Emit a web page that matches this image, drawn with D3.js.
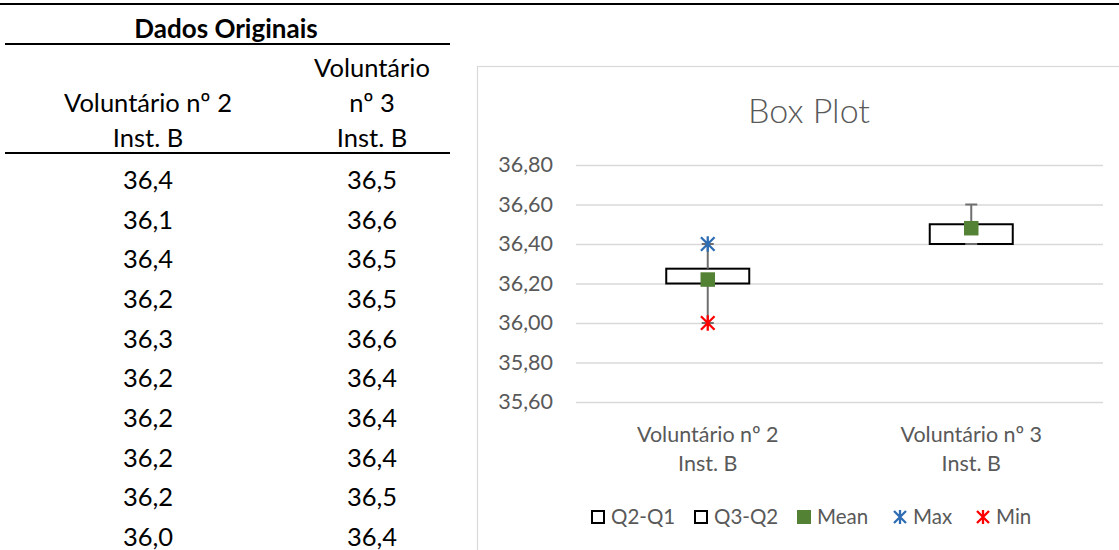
<!DOCTYPE html>
<html>
<head>
<meta charset="utf-8">
<script src="https://cdn.jsdelivr.net/npm/d3@7"></script>
<style>
  html, body { margin: 0; padding: 0; background: #fff; }
  svg { display: block; }
</style>
</head>
<body>
<svg id="chart" width="1119" height="550"></svg>
<script>
// ---------- data ----------
const tableTitle = "Dados Originais";
const tableHeaders = [["Voluntário nº 2", "Inst. B"], ["Voluntário", "nº 3", "Inst. B"]];
const vol2 = [36.4, 36.1, 36.4, 36.2, 36.3, 36.2, 36.2, 36.2, 36.2, 36.0];
const vol3 = [36.5, 36.6, 36.5, 36.5, 36.6, 36.4, 36.4, 36.4, 36.5, 36.4];

const chartTitle = "Box Plot";
const categories = ["Voluntário nº 2\nInst. B", "Voluntário nº 3\nInst. B"];
const q1 = [36.2, 36.4];
const q2 = [36.2, 36.5];
const q3 = [36.275, 36.5];
const whiskerLow = [36.0, 36.4];
const whiskerHigh = [36.4, 36.6];
const meanVals = [36.22, 36.48];
const maxVals = [36.4, null];
const minVals = [36.0, null];
const yTicks = [35.6, 35.8, 36.0, 36.2, 36.4, 36.6, 36.8];
const legendLabels = ["Q2-Q1", "Q3-Q2", "Mean", "Max", "Min"];

// ---------- setup ----------
const svg = d3.select("#chart");
svg.append("rect").attr("width", 1119).attr("height", 550).attr("fill", "#fff");
const ptLocale = d3.formatLocale({ decimal: ",", thousands: ".", grouping: [3], currency: ["", ""] });
const f1 = ptLocale.format(".1f");
const f2 = ptLocale.format(".2f");
const FONT = "Lato, 'Open Sans', 'Noto Sans', sans-serif";

// ---------- top rule ----------
svg.append("line").attr("x1", 0).attr("x2", 1119).attr("y1", 4).attr("y2", 4)
  .attr("stroke", "#000").attr("stroke-width", 2.2);

// ---------- table ----------
const colX = d3.scalePoint().domain([0, 1]).range([148, 372]);
const rowY = d3.scaleLinear().domain([0, 9]).range([180, 537]);
const TS = 25.5;
const tbl = svg.append("g").attr("font-family", FONT).attr("fill", "#000");

tbl.append("text").attr("x", 226).attr("y", 38).attr("text-anchor", "middle")
  .attr("font-size", 26).attr("font-weight", 700).text(tableTitle);
tbl.append("line").attr("x1", 5).attr("x2", 450).attr("y1", 44).attr("y2", 44)
  .attr("stroke", "#000").attr("stroke-width", 2);
tbl.append("line").attr("x1", 5).attr("x2", 450).attr("y1", 153).attr("y2", 153)
  .attr("stroke", "#000").attr("stroke-width", 2);

tableHeaders.forEach((lines, ci) => {
  const bottom = 147;
  lines.forEach((ln, li) => {
    tbl.append("text").attr("x", colX(ci)).attr("y", bottom - (lines.length - 1 - li) * 35)
      .attr("text-anchor", "middle").attr("font-size", TS).text(ln);
  });
});
[vol2, vol3].forEach((col, ci) => {
  tbl.selectAll(null).data(col).enter().append("text")
    .attr("x", colX(ci)).attr("y", (d, i) => rowY(i))
    .attr("dy", "0.35em").attr("text-anchor", "middle").attr("font-size", TS)
    .text(d => f1(d));
});

// ---------- chart ----------
svg.append("rect").attr("x", 477.5).attr("y", 66.5).attr("width", 700).attr("height", 600)
  .attr("fill", "#fff").attr("stroke", "#d9d9d9").attr("stroke-width", 1.2);

svg.append("text").attr("x", 809).attr("y", 123).attr("text-anchor", "middle")
  .attr("font-family", FONT).attr("font-weight", 300).attr("font-size", 34)
  .attr("fill", "#595959").text(chartTitle);

const y = d3.scaleLinear().domain([35.6, 36.8]).range([402, 165]);
const x = d3.scaleBand().domain(categories).range([576, 1103]).padding(0);

// grid + y axis labels
const yAxis = d3.axisLeft(y).tickValues(yTicks).tickSize(-(1103 - 576)).tickFormat(d => f2(d)).tickPadding(23);
const gy = svg.append("g").attr("transform", "translate(576,0)").call(yAxis);
gy.select(".domain").remove();
gy.selectAll(".tick line").attr("stroke", "#d9d9d9").attr("stroke-width", 1.3);
gy.selectAll(".tick text").attr("font-family", FONT).attr("font-size", 21.5).attr("fill", "#595959");

// x axis labels
const xAxis = d3.axisBottom(x).tickSize(0).tickFormat("");
const gx = svg.append("g").attr("transform", "translate(0,402)").call(xAxis);
gx.select(".domain").remove();
gx.selectAll(".tick").each(function(d) {
  const t = d3.select(this).append("text").attr("text-anchor", "middle")
    .attr("font-family", FONT).attr("font-size", 21.5).attr("fill", "#595959");
  d.split("\n").forEach((ln, i) => t.append("tspan").attr("x", 0).attr("y", 40 + i * 29).text(ln));
});

const bw = x.bandwidth() * 0.315;
const cx = i => x(categories[i]) + x.bandwidth() / 2;
const idx = d3.range(categories.length);

// boxes
const boxes = svg.append("g");
idx.forEach(i => {
  boxes.append("rect").attr("x", cx(i) - bw / 2).attr("y", y(q2[i]))
    .attr("width", bw).attr("height", y(q1[i]) - y(q2[i]))
    .attr("fill", "#fff").attr("stroke", "#000").attr("stroke-width", 2);
  boxes.append("rect").attr("x", cx(i) - bw / 2).attr("y", y(q3[i]))
    .attr("width", bw).attr("height", y(q2[i]) - y(q3[i]))
    .attr("fill", "#fff").attr("stroke", "#000").attr("stroke-width", 2);
});

// whiskers
const wh = svg.append("g").attr("stroke", "#6f6f6f").attr("stroke-width", 2);
const capW = 12;
idx.forEach(i => {
  wh.append("line").attr("x1", cx(i)).attr("x2", cx(i)).attr("y1", y(q3[i])).attr("y2", y(whiskerHigh[i]));
  wh.append("line").attr("x1", cx(i) - capW / 2).attr("x2", cx(i) + capW / 2).attr("y1", y(whiskerHigh[i])).attr("y2", y(whiskerHigh[i]));
  wh.append("line").attr("x1", cx(i)).attr("x2", cx(i)).attr("y1", y(q1[i])).attr("y2", y(whiskerLow[i]));
  wh.append("line").attr("x1", cx(i) - capW / 2).attr("x2", cx(i) + capW / 2).attr("y1", y(whiskerLow[i])).attr("y2", y(whiskerLow[i]));
});

// markers
const GREEN = "#548235", BLUE = "#2e6db4", RED = "#ff0000";
const star = s => `M${-s},${-s}L${s},${s}M${-s},${s}L${s},${-s}M0,${-s * 1.15}L0,${s * 1.15}`;
const ms = 14.5;
svg.append("g").selectAll("rect").data(idx).enter().append("rect")
  .attr("x", i => cx(i) - ms / 2).attr("y", i => y(meanVals[i]) - ms / 2)
  .attr("width", ms).attr("height", ms).attr("fill", GREEN);
svg.append("g").selectAll("path").data(idx.filter(i => maxVals[i] != null)).enter().append("path")
  .attr("transform", i => `translate(${cx(i)},${y(maxVals[i])})`)
  .attr("d", star(6.8)).attr("stroke", BLUE).attr("stroke-width", 2.3).attr("fill", "none");
svg.append("g").selectAll("path").data(idx.filter(i => minVals[i] != null)).enter().append("path")
  .attr("transform", i => `translate(${cx(i)},${y(minVals[i])})`)
  .attr("d", star(6.8)).attr("stroke", RED).attr("stroke-width", 2.3).attr("fill", "none");

// legend
const legX = [591, 694, 797, 893, 976];
const leg = svg.append("g").attr("font-family", FONT).attr("font-size", 20.5).attr("fill", "#595959");
legendLabels.forEach((lab, i) => {
  const g = leg.append("g").attr("transform", `translate(${legX[i]},517)`);
  if (i < 2) {
    g.append("rect").attr("x", 1).attr("y", -6).attr("width", 12).attr("height", 12)
      .attr("fill", "#fff").attr("stroke", "#000").attr("stroke-width", 2);
  } else if (i === 2) {
    g.append("rect").attr("x", 0).attr("y", -7).attr("width", 14).attr("height", 14).attr("fill", GREEN);
  } else {
    g.append("path").attr("transform", "translate(7,0)").attr("d", star(6))
      .attr("stroke", i === 3 ? BLUE : RED).attr("stroke-width", 2.3).attr("fill", "none");
  }
  g.append("text").attr("x", 20).attr("y", 0).attr("dy", "0.35em").text(lab);
});
</script>
</body>
</html>
